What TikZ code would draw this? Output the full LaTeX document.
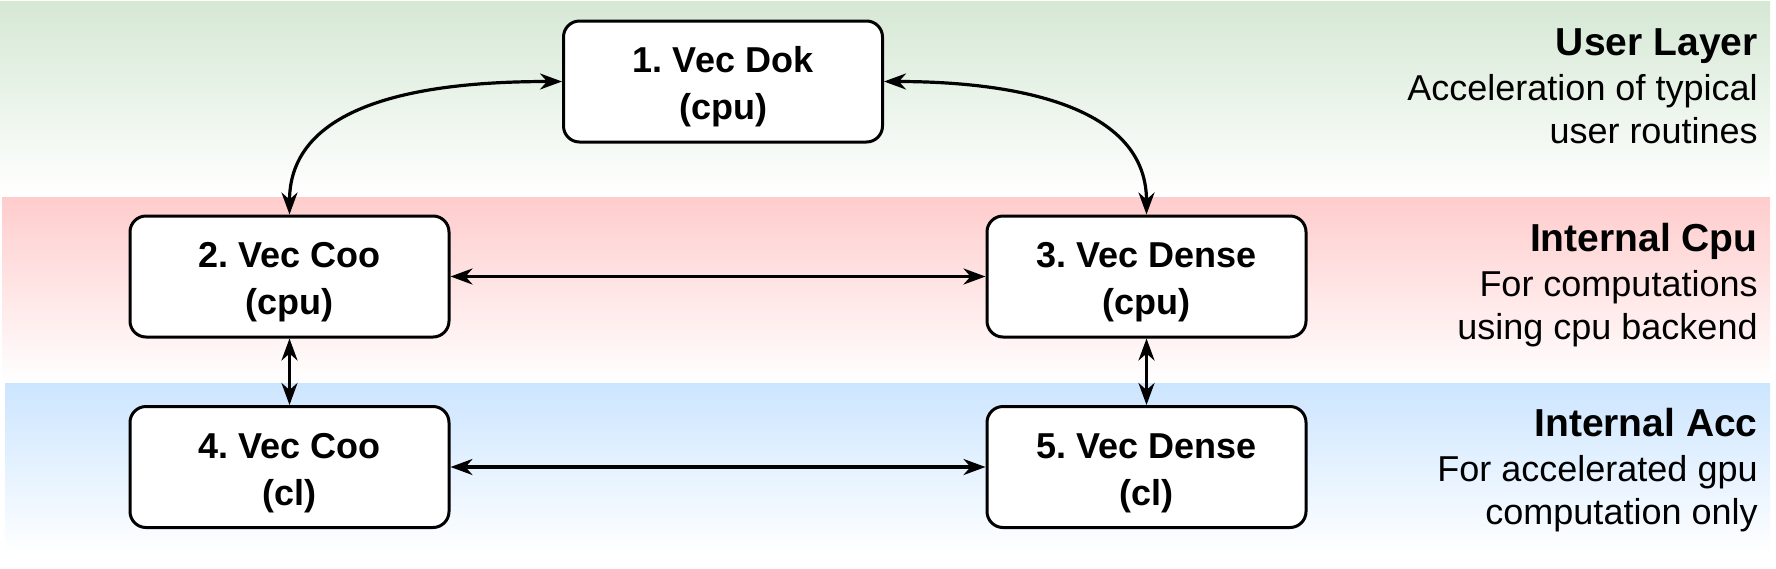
\documentclass[tikz,border=0pt]{standalone}
\usepackage{fontspec}
\setmainfont{Liberation Sans}
\usetikzlibrary{arrows.meta,positioning}
\definecolor{usergreen}{HTML}{D5E8D4}
\definecolor{cpured}{HTML}{FFCCCC}
\definecolor{accblue}{HTML}{CCE5FF}
\frenchspacing
\tikzset{
  vecbox/.style = {draw=black, fill=white, line width=1.5pt, rounded corners=8pt,
    minimum width=159.5pt, minimum height=60.5pt, align=center, inner sep=0pt,
    font=\fontsize{18}{23.5}\selectfont\bfseries},% box of one vector type
  layerlabel/.style = {anchor=north east, align=right, inner sep=0pt,
    font=\fontsize{18}{21.5}\selectfont},% text at the right of a layer
  link/.style = {<->, >={Stealth[length=11pt,width=8pt,inset=3.5pt]},
    line width=1.6pt}% conversion between two types
}
\newcommand{\layertext}[3]{{\fontsize{19.5}{23}\selectfont\bfseries #1}\\[1pt] #2\\ #3}
\newcommand{\vectext}[2]{\rule{0pt}{18.5pt}#1\\#2}

\begin{document}
\begin{tikzpicture}[x=0.5pt,y=-0.5pt]
\useasboundingbox (0,0) rectangle (1776,568);

% layers
\shade[top color=usergreen, bottom color=white] (0,1) rectangle (1770,196);
\shade[top color=cpured, bottom color=white] (2,197) rectangle (1770,383);
\shade[top color=accblue, bottom color=white] (5,383) rectangle (1770,555);

\node[layerlabel] (user) at (1758,28) {\layertext{User Layer}{Acceleration of typical}{user routines}};
\node[layerlabel] (icpu) at (1758,223) {\layertext{Internal Cpu}{For computations}{using cpu backend}};
\node[layerlabel] (iacc) at (1758,408) {\layertext{Internal Acc}{For accelerated gpu}{computation only}};

% vector types
\node[vecbox] (dok) at (723,81.5) {\vectext{1. Vec Dok}{(cpu)}};
\node[vecbox] (coo) at (289.5,276.5) {\vectext{2. Vec Coo}{(cpu)}};
\node[vecbox] (dense) at (1146.5,276.5) {\vectext{3. Vec Dense}{(cpu)}};
\node[vecbox] (coocl) at (289.5,467) {\vectext{4. Vec Coo}{(cl)}};
\node[vecbox] (densecl) at (1146.5,467) {\vectext{5. Vec Dense}{(cl)}};

\draw[link] (coo.north) to[out=90,in=180] (dok.west);
\draw[link] (dense.north) to[out=90,in=0] (dok.east);
\draw[link] (coo) -- (dense);
\draw[link] (coocl) -- (densecl);
\draw[link] (coo) -- (coocl);
\draw[link] (dense) -- (densecl);
\end{tikzpicture}
\end{document}
